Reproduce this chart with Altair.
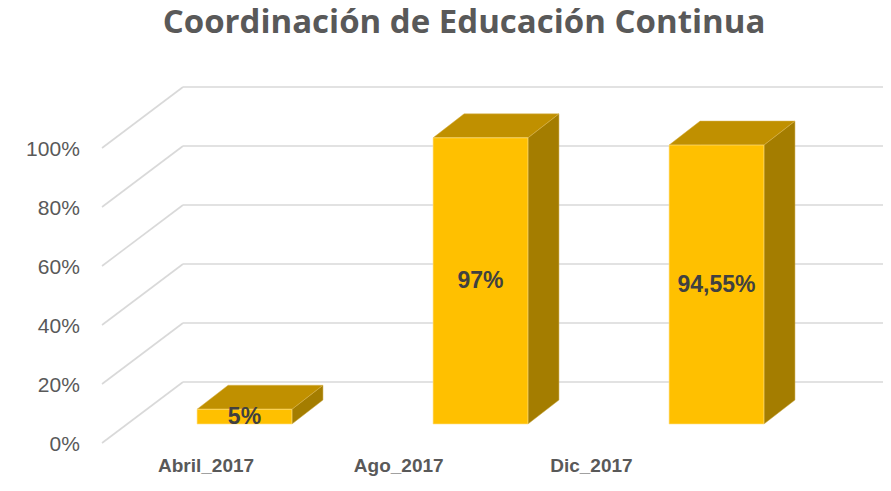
import altair as alt
import pandas as pd

# ---- data ----
categories = ["Abril_2017", "Ago_2017", "Dic_2017"]
values = [5, 97, 94.55]
value_labels = ["5%", "97%", "94,55%"]
tick_values = [0, 20, 40, 60, 80, 100]
tick_labels = ["0%", "20%", "40%", "60%", "80%", "100%"]
title_text = "Coordinación de Educación Continua"

# ---- pseudo-3D geometry (in data units: x = category index, y = percent) ----
HALF_W = 0.201        # half bar width
DEPTH_X = 0.1314      # bar depth along x
DEPTH_Y = 8.14        # bar depth along y
BASE = -14.24         # floor level at bar front
FRONT_DY = 20.68      # wall front edge offset
WALL_FRONT_X = -0.6037
WALL_BACK_X = -0.2606
X_MIN, X_MAX = -1.0021, 2.7055
Y_MIN, Y_MAX = -34.24, 126.78
LABEL_PERSP = 0.8165
LABEL_SHIFT = -0.163

xs = alt.Scale(domain=[X_MIN, X_MAX], nice=False, zero=False)
ys = alt.Scale(domain=[Y_MIN, Y_MAX], nice=False, zero=False)

grid_h = pd.DataFrame({"x": [WALL_BACK_X] * len(tick_values), "x2": [X_MAX] * len(tick_values),
                       "y": tick_values})
grid_d = pd.DataFrame({"x": [WALL_FRONT_X] * len(tick_values), "x2": [WALL_BACK_X] * len(tick_values),
                       "y": [v - FRONT_DY for v in tick_values], "y2": tick_values})
ticks = pd.DataFrame({"x": [WALL_FRONT_X - 0.094] * len(tick_values),
                      "y": [v - FRONT_DY - 0.7 for v in tick_values], "label": tick_labels})

front_rows, top_rows, side_rows, lab_rows, cat_rows = [], [], [], [], []
for i, (cat, val, lab) in enumerate(zip(categories, values, value_labels)):
    x0, x1 = i - HALF_W, i + HALF_W
    t = BASE + val
    front_rows.append({"cat": cat, "x": x0, "x2": x1, "y": BASE, "y2": t})
    top_rows += [
        {"cat": cat, "x": x0, "y": t, "y2": t},
        {"cat": cat, "x": x0 + DEPTH_X, "y": t + DEPTH_Y, "y2": t},
        {"cat": cat, "x": x1, "y": t + DEPTH_Y, "y2": t},
        {"cat": cat, "x": x1 + DEPTH_X, "y": t + DEPTH_Y, "y2": t + DEPTH_Y},
    ]
    side_rows += [
        {"cat": cat, "x": x1, "y": t, "y2": BASE},
        {"cat": cat, "x": x1 + DEPTH_X, "y": t + DEPTH_Y, "y2": BASE + DEPTH_Y},
    ]
    lab_rows.append({"cat": cat, "x": float(i), "y": BASE + val / 2, "label": lab})
    cat_rows.append({"cat": cat, "x": i * LABEL_PERSP + LABEL_SHIFT, "y": -28.47})

front = pd.DataFrame(front_rows)
top = pd.DataFrame(top_rows)
side = pd.DataFrame(side_rows)
labs = pd.DataFrame(lab_rows)
cats = pd.DataFrame(cat_rows)

GRID = "#D9D9D9"

l_grid_h = alt.Chart(grid_h).mark_rule(color=GRID, strokeWidth=1.6).encode(
    x=alt.X("x:Q", scale=xs, axis=None), x2="x2:Q", y=alt.Y("y:Q", scale=ys, axis=None))
l_grid_d = alt.Chart(grid_d).mark_rule(color=GRID, strokeWidth=1.6).encode(
    x=alt.X("x:Q", scale=xs, axis=None), x2="x2:Q",
    y=alt.Y("y:Q", scale=ys, axis=None), y2="y2:Q")
l_ticks = alt.Chart(ticks).mark_text(align="right", baseline="middle", fontSize=21,
                                     font="Liberation Sans", color="#595959").encode(
    x=alt.X("x:Q", scale=xs, axis=None), y=alt.Y("y:Q", scale=ys, axis=None), text="label:N")

l_side = alt.Chart(side).mark_area(color="#A47D00", stroke="#C9A640", strokeWidth=0.5,
                                   interpolate="linear").encode(
    x=alt.X("x:Q", scale=xs, axis=None), y=alt.Y("y:Q", scale=ys, axis=None), y2="y2:Q",
    detail="cat:N")
l_top = alt.Chart(top).mark_area(color="#C09000", stroke="#D9B24D", strokeWidth=0.5,
                                 interpolate="linear").encode(
    x=alt.X("x:Q", scale=xs, axis=None), y=alt.Y("y:Q", scale=ys, axis=None), y2="y2:Q",
    detail="cat:N")
l_front = alt.Chart(front).mark_rect(color="#FFC000", stroke="#FFE08A", strokeWidth=0.6).encode(
    x=alt.X("x:Q", scale=xs, axis=None), x2="x2:Q",
    y=alt.Y("y:Q", scale=ys, axis=None), y2="y2:Q")
l_labs = alt.Chart(labs).mark_text(fontSize=23, fontWeight="bold", font="Liberation Sans",
                                   color="#404040", baseline="middle").encode(
    x=alt.X("x:Q", scale=xs, axis=None), y=alt.Y("y:Q", scale=ys, axis=None), text="label:N")
l_cats = alt.Chart(cats).mark_text(fontSize=19, fontWeight="bold", font="Liberation Sans",
                                   color="#595959", baseline="middle").encode(
    x=alt.X("x:Q", scale=xs, axis=None), y=alt.Y("y:Q", scale=ys, axis=None), text="cat:N")
l_title = alt.Chart(pd.DataFrame({"t": [title_text]})).mark_text(
    fontSize=33, fontWeight="bold", font="Open Sans", color="#595959", baseline="alphabetic").encode(
    x=alt.value(456), y=alt.value(25), text="t:N")

chart = alt.layer(l_grid_h, l_grid_d, l_ticks, l_side, l_top, l_front, l_labs, l_cats, l_title).properties(
    width=875, height=475, padding=0, autosize=alt.AutoSizeParams(type="none"),
    background="white"
).configure_view(stroke=None)

chart.save("out.html", embed_options={"renderer": "svg", "actions": False})
